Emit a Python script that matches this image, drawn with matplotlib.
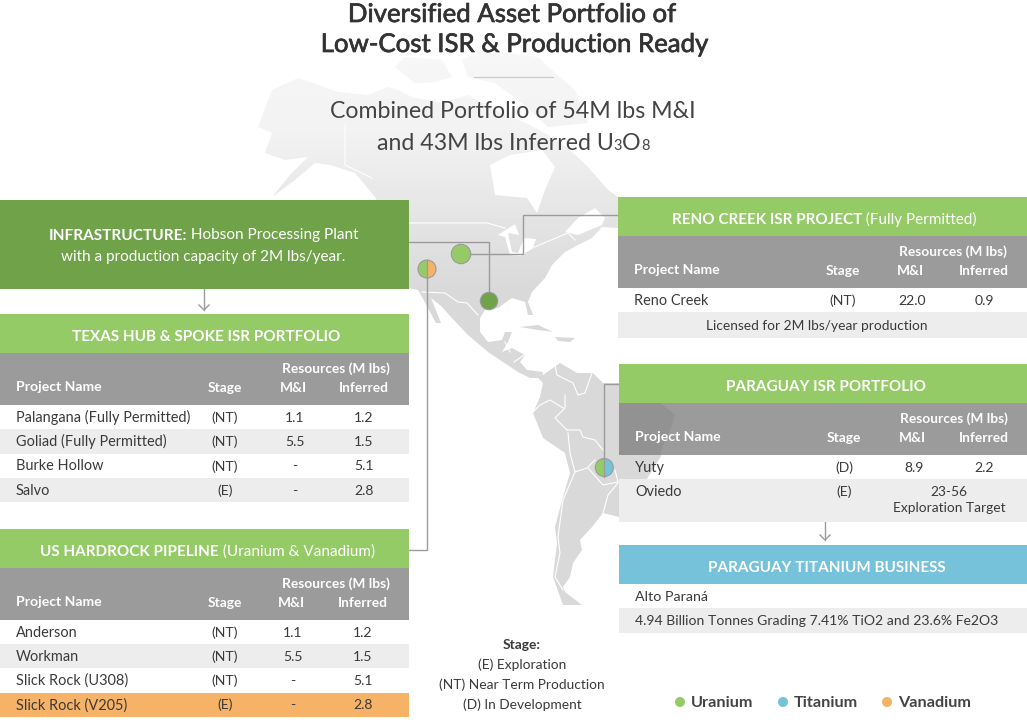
# Diversified asset portfolio infographic, drawn in pixel coordinates

import numpy as np
import matplotlib
matplotlib.use("Agg")
import matplotlib.pyplot as plt
import matplotlib.patheffects as pe
from matplotlib.patches import Rectangle, Polygon, Circle, Wedge

plt.rcParams['font.family'] = ['Lato', 'DejaVu Sans']

# -------------------------------
# Data
# -------------------------------
texas_names = ["Palangana (Fully Permitted)", "Goliad (Fully Permitted)", "Burke Hollow", "Salvo"]
texas_stage = ["(NT)", "(NT)", "(NT)", "(E)"]
texas_mi = ["1.1", "5.5", "-", "-"]
texas_inferred = ["1.2", "1.5", "5.1", "2.8"]

hardrock_names = ["Anderson", "Workman", "Slick Rock (U308)", "Slick Rock (V205)"]
hardrock_stage = ["(NT)", "(NT)", "(NT)", "(E)"]
hardrock_mi = ["1.1", "5.5", "-", "-"]
hardrock_inferred = ["1.2", "1.5", "5.1", "2.8"]

reno_names = ["Reno Creek"]
reno_stage = ["(NT)"]
reno_mi = ["22.0"]
reno_inferred = ["0.9"]

paraguay_names = ["Yuty", "Oviedo"]
paraguay_stage = ["(D)", "(E)"]
paraguay_mi = ["8.9", ""]
paraguay_inferred = ["2.2", ""]

stage_notes = ["(E) Exploration", "(NT) Near Term Production", "(D) In Development"]
legend_names = ["Uranium", "Titanium", "Vanadium"]

GREEN = "#95cb66"
DARK_GREEN = "#70a349"
BLUE = "#75c2da"
ORANGE = "#f6b368"
HEADER_GRAY = "#9b9b9b"
ROW_GRAY = "#ededed"
LINE_GRAY = "#9b9b9b"
TEXT = "#3a3a3a"
legend_colors = [GREEN, BLUE, ORANGE]

# background map outlines (traced by eye, pixel coords)
north_america = [(258,127),(272,90),(298,78),(338,92),(368,95),(388,87),(398,90),(412,97),(442,103),(468,95),
                 (495,110),(530,125),(548,135),(570,150),(588,167),(608,190),(618,197),(618,228),(602,227),
                 (592,238),(578,245),(565,252),(552,265),(545,278),(532,292),(528,302),(533,315),(528,315),
                 (525,302),(512,298),(498,308),(485,310),(480,318),(480,332),(488,342),(502,340),(505,332),
                 (512,332),(508,342),(502,352),(512,348),(525,355),(520,362),(527,370),(543,372),(542,378),
                 (530,378),(518,372),(488,352),(468,335),(452,318),(441,306),(431,298),(441,323),(436,323),
                 (422,297),(418,290),(408,288),(400,240),(375,197),(355,173),(330,165),(315,163),(295,180),
                 (272,197),(290,175),(308,157),(285,160),(265,153),(272,133)]
south_america = [(530,370),(543,375),(560,363),(577,373),(593,373),(603,383),(620,383),(650,395),(675,417),
                 (663,453),(640,490),(619,517),(603,513),(592,527),(580,540),(582,550),(573,563),(570,577),
                 (563,587),(565,592),(582,605),(563,605),(553,577),(557,543),(555,527),(563,497),(570,473),
                 (565,453),(543,438),(533,413),(540,397),(543,383)]
arctic_west = [(395,67),(405,57),(442,60),(452,77),(435,82),(415,83)]
arctic_east = [(462,60),(482,50),(538,57),(555,73),(575,90),(588,123),(548,127),(522,103),(495,83),(468,77)]
cuba = [(520,327),(538,325),(553,332),(538,330)]
hispaniola = [(555,337),(575,338),(570,342),(558,341)]
hudson_bay = [(490,165),(510,155),(542,150),(555,167),(545,190),(537,213),(527,198),(495,195)]
great_lakes = [(498,235),(515,224),(519,235),(508,233),(512,252),(518,253),(524,238),(536,239),(533,248),
               (521,256),(510,255),(505,237)]
st_lawrence = [(565,232),(578,218),(595,208),(605,218),(602,225),(578,235)]
border_lines = [[(408,223),(487,223),(505,228)],
                [(422,292),(445,293),(458,302),(467,303),(478,315)],
                [(345,125),(345,165),(372,178)],
                [(532,248),(568,233),(575,240)],
                [(555,365),(557,375),(573,383),(578,395),(585,393),(592,373)],
                [(565,395),(565,408),(555,418),(567,430)],
                [(533,412),(540,405),(550,400),(563,408)],
                [(567,430),(580,430),(583,437),(595,440),(603,450)],
                [(568,433),(570,453),(575,472),(587,468),(595,460)],
                [(588,468),(603,485),(618,482),(615,470)],
                [(575,472),(563,500),(558,537),(560,553),(555,577),(563,590)],
                [(618,483),(608,495),(603,513)],
                [(510,352),(505,342)],
                [(524,355),(514,362)]]

# -------------------------------
# Figure
# -------------------------------
fig = plt.figure(figsize=(10.27, 7.2), dpi=100)
ax = fig.add_axes([0, 0, 1, 1])
ax.set_xlim(0, 1027)
ax.set_ylim(720, 0)
ax.axis('off')

def px(size):
    return size * 0.72

# -------------------------------
# Map with a vertical fade
# -------------------------------
rows = np.arange(720)
gradient = np.interp(rows, [40, 130, 200, 290], [0.97, 0.95, 0.905, 0.85]).reshape(-1, 1)
for shape in [north_america, south_america, arctic_west, arctic_east, cuba, hispaniola]:
    img = ax.imshow(gradient, cmap='gray', vmin=0, vmax=1, extent=(0, 1027, 720, 0), aspect='auto', zorder=1)
    patch = Polygon(shape, closed=True, transform=ax.transData, fc='none', ec='none')
    ax.add_patch(patch)
    img.set_clip_path(patch)
for shape in [hudson_bay, great_lakes, st_lawrence]:
    ax.add_patch(Polygon(shape, closed=True, fc='white', ec='none', zorder=2))
for line in border_lines:
    xs, ys = zip(*line)
    ax.plot(xs, ys, color='white', lw=0.8, zorder=2)

# -------------------------------
# Helpers
# -------------------------------
def box(x0, x1, y0, y1, color, z=4):
    ax.add_patch(Rectangle((x0, y0), x1 - x0, y1 - y0, fc=color, ec='none', zorder=z))

def label(x, y, s, size=14.5, color=TEXT, ha='center', weight='normal', z=6):
    return ax.text(x, y + 1, s, fontsize=px(size), color=color, ha=ha, va='center', fontweight=weight, zorder=z)

def text_width(t):
    bb = t.get_window_extent(fig.canvas.get_renderer())
    return bb.width

def run_line(cx, baseline, parts, color, stroke=0):
    # parts: (text, size, weight), laid out side by side on one baseline and centred on cx
    items = []
    for s, size, weight in parts:
        t = ax.text(0, baseline, s, fontsize=px(size), color=color, fontweight=weight, ha='left', va='baseline', zorder=6)
        items.append(t)
    widths = [text_width(t) for t in items]
    x = cx - sum(widths) / 2
    for t, w in zip(items, widths):
        t.set_x(x)
        x += w
        if stroke:
            t.set_path_effects([pe.withStroke(linewidth=stroke, foreground=color)])

def connector(points):
    xs, ys = zip(*points)
    ax.plot(xs, ys, color=LINE_GRAY, lw=1.0, zorder=3, solid_joinstyle='miter')

def down_arrow(x, y0, y1):
    ax.plot([x, x], [y0, y1], color=LINE_GRAY, lw=1.0, zorder=3)
    ax.plot([x - 5, x, x + 5], [y1 - 5, y1, y1 - 5], color=LINE_GRAY, lw=1.0, zorder=3)

def title_bar(x0, x1, y0, cx, bold_text, extra_text="", color=GREEN):
    box(x0, x1, y0, y0 + 39, color)
    parts = [(bold_text, 15.3, 'bold')]
    if extra_text:
        parts.append((" " + extra_text, 15.3, 'normal'))
    run_line(cx, y0 + 27, parts, 'white')

def table(x0, x1, y0, names, stages, mi, inferred, cols, row_h=24.3):
    # cols: name x, stage x, M&I x, inferred x, resources right edge
    name_x, stage_x, mi_x, inf_x, res_right = cols
    box(x0, x1, y0, y0 + 52, HEADER_GRAY)
    label(res_right, y0 + 15, "Resources (M lbs)", color='white', ha='right', weight='bold', size=13.8)
    label(name_x, y0 + 33, "Project Name", color='white', ha='left', weight='bold', size=14)
    label(stage_x, y0 + 34, "Stage", color='white', weight='bold', size=13.8)
    label(mi_x - 2, y0 + 34, "M&I", color='white', weight='bold', size=13.8)
    label(inf_x, y0 + 34, "Inferred", color='white', weight='bold', size=13.8)
    top = y0 + 52
    for i in range(len(names)):
        yc = top + row_h * (i + 0.5) - 0.5
        if i % 2 == 1:
            box(x0, x1, top + row_h * i, top + row_h * (i + 1), ROW_GRAY)
        label(name_x, yc, names[i], ha='left')
        label(stage_x, yc, stages[i], size=14)
        label(mi_x, yc, mi[i], size=14)
        label(inf_x, yc, inferred[i], size=14)

# -------------------------------
# Title block
# -------------------------------
run_line(512, 22, [("Diversified Asset Portfolio of", 25.8, 'normal')], "#333333", stroke=0.5)
run_line(514.5, 52, [("Low-Cost ISR & Production Ready", 25.8, 'normal')], "#333333", stroke=0.5)
ax.plot([474, 553], [77, 77], color="#cccccc", lw=0.9, zorder=5)
run_line(512.5, 118, [("Combined Portfolio of 54M lbs M&I", 23.1, 'normal')], "#444444")
run_line(513, 150, [("and 43M lbs Inferred U", 23.1, 'normal'), ("3", 14.5, 'normal'),
                    ("O", 23.1, 'normal'), ("8", 14.5, 'normal')], "#444444")

# -------------------------------
# Connector lines and site markers
# -------------------------------
connector([(409, 242), (489, 242), (489, 301)])
connector([(618, 215), (523, 215), (523, 254), (461, 254)])
connector([(427, 269), (427, 550), (409, 550)])
connector([(619, 384), (604, 384), (604, 468)])

ax.add_patch(Circle((461, 254), 9.7, fc=GREEN, ec=LINE_GRAY, lw=0.8, zorder=5))
ax.add_patch(Circle((489, 301), 8.7, fc=DARK_GREEN, ec=LINE_GRAY, lw=0.8, zorder=5))

def split_marker(x, y, left, right):
    # 90 to 270 degrees is the left half whichever way y runs
    ax.add_patch(Wedge((x, y), 9, 90, 270, fc=left, ec='none', zorder=5))
    ax.add_patch(Wedge((x, y), 9, 270, 90, fc=right, ec='none', zorder=5))
    ax.add_patch(Circle((x, y), 9, fc='none', ec=LINE_GRAY, lw=0.8, zorder=5))
    ax.plot([x, x], [y - 9, y + 9], color=LINE_GRAY, lw=0.9, zorder=5)

split_marker(427, 269, GREEN, ORANGE)
split_marker(604.3, 467.5, GREEN, BLUE)

# -------------------------------
# Left column
# -------------------------------
box(0, 409, 200, 289, DARK_GREEN)
run_line(203.5, 239.5, [("INFRASTRUCTURE:", 15.4, 'bold'), (" Hobson Processing Plant", 15.4, 'normal')], 'white')
run_line(203.5, 261.5, [("with a production capacity of 2M lbs/year.", 15.3, 'normal')], 'white')
down_arrow(204, 289, 310)

title_bar(0, 409, 314, 206, "TEXAS HUB & SPOKE ISR PORTFOLIO")
table(0, 409, 353, texas_names, texas_stage, texas_mi, texas_inferred, (16, 225, 295, 364, 390))

title_bar(0, 409, 529, 207.5, "US HARDROCK PIPELINE", "(Uranium & Vanadium)")
box(0, 409, 693, 717, ORANGE, z=5)
table(0, 409, 568, hardrock_names, hardrock_stage, hardrock_mi, hardrock_inferred, (16, 225, 293, 363, 390), row_h=24.2)

# -------------------------------
# Right column
# -------------------------------
title_bar(618, 1027, 197, 824, "RENO CREEK ISR PROJECT", "(Fully Permitted)")
table(618, 1027, 236, reno_names, reno_stage, reno_mi, reno_inferred, (634, 843, 912, 984, 1007))
box(618, 1027, 312, 338, ROW_GRAY)
label(817, 325, "Licensed for 2M lbs/year production", size=13.7)

title_bar(619, 1027, 364, 826, "PARAGUAY ISR PORTFOLIO")
table(619, 1027, 403, paraguay_names, paraguay_stage, paraguay_mi, paraguay_inferred, (635, 844, 914, 984, 1008))
box(619, 1027, 479, 522, ROW_GRAY)
label(949, 491, "23-56", size=13.8)
label(949, 507, "Exploration Target", size=13.8)
# Brazil shows faintly through the grey header
ax.add_patch(Polygon([(619, 403), (660, 403), (675, 415), (672, 425), (665, 440), (660, 455), (619, 455)],
                     closed=True, fc="#929292", ec='none', zorder=4.5))
down_arrow(825, 522, 540)

title_bar(619, 1027, 545, 826.5, "PARAGUAY TITANIUM BUSINESS", color=BLUE)
box(619, 1027, 608, 633, ROW_GRAY)
label(635, 596, "Alto Paraná", ha='left', size=14.3)
label(635, 620, "4.94 Billion Tonnes Grading 7.41% TiO2 and 23.6% Fe2O3", size=14, ha='left')

# -------------------------------
# Stage notes and legend
# -------------------------------
label(522, 644, "Stage:", size=13.8, weight='bold')
for i, note in enumerate(stage_notes):
    label(522, 664 + 20 * i, note, size=13.8)

legend_dot_x = [680, 783, 887]
for i, name in enumerate(legend_names):
    ax.add_patch(Circle((legend_dot_x[i], 702), 5, fc=legend_colors[i], ec='none', zorder=5))
    label(legend_dot_x[i] + 11, 702, name, size=16.3, ha='left', weight='bold', color="#444444")

fig.savefig("out.png", dpi=100)
